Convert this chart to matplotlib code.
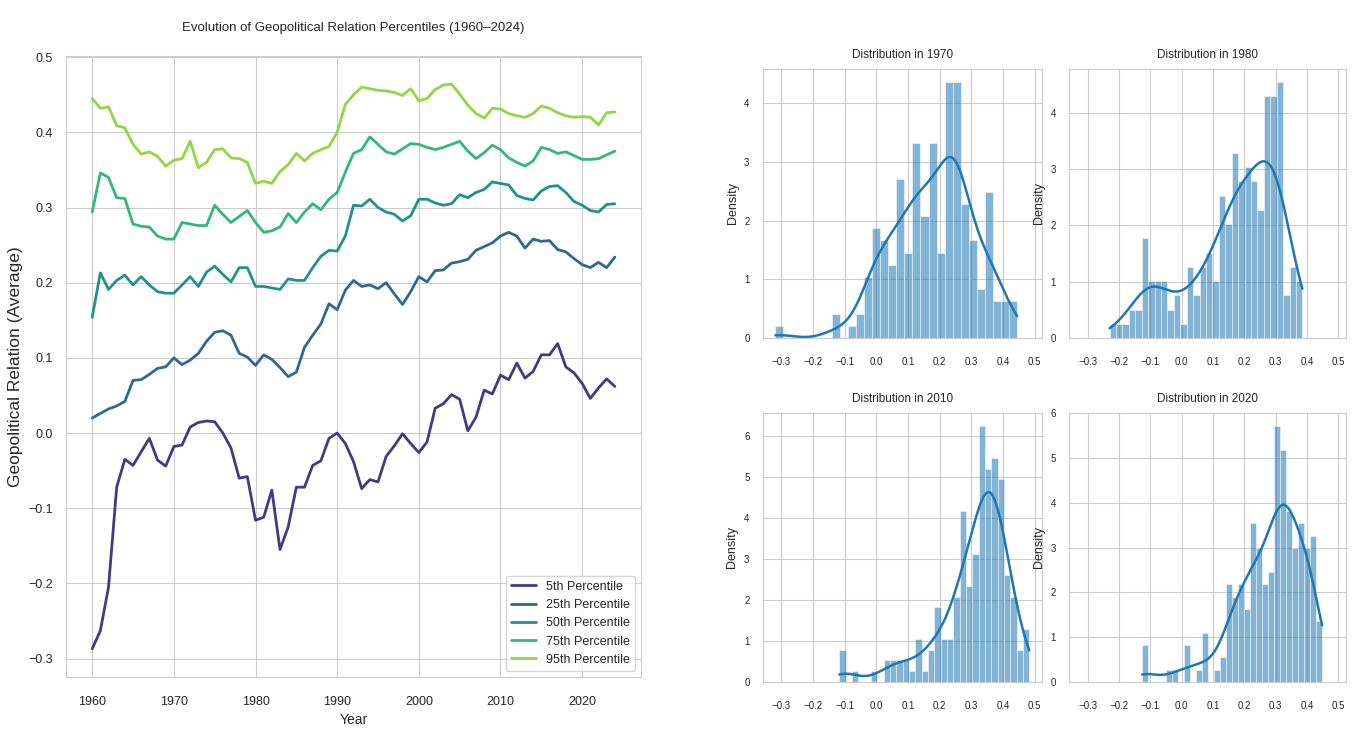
import numpy as np
import matplotlib
matplotlib.use('Agg')
import matplotlib.pyplot as plt
import seaborn as sns
from matplotlib.ticker import MultipleLocator

sns.set_style('whitegrid')
plt.rcParams['font.family'] = ['Liberation Sans', 'DejaVu Sans']

# ---------------- data ----------------
years = list(range(1960, 2025))

p5 = [-0.287, -0.263, -0.205, -0.072, -0.035, -0.043, -0.025, -0.007, -0.036, -0.044,
      -0.018, -0.016, 0.008, 0.014, 0.016, 0.015, 0.000, -0.020, -0.060, -0.058,
      -0.116, -0.112, -0.076, -0.155, -0.125, -0.072, -0.072, -0.043, -0.037, -0.007,
      0.000, -0.014, -0.038, -0.074, -0.062, -0.065, -0.031, -0.017, -0.001, -0.014,
      -0.026, -0.012, 0.033, 0.039, 0.051, 0.045, 0.003, 0.021, 0.057, 0.052,
      0.077, 0.071, 0.093, 0.073, 0.082, 0.104, 0.104, 0.119, 0.088, 0.080,
      0.066, 0.046, 0.060, 0.072, 0.062]

p25 = [0.020, 0.026, 0.032, 0.036, 0.042, 0.070, 0.071, 0.078, 0.086, 0.088,
       0.100, 0.091, 0.097, 0.106, 0.122, 0.134, 0.136, 0.130, 0.106, 0.101,
       0.090, 0.104, 0.098, 0.087, 0.075, 0.081, 0.114, 0.130, 0.145, 0.172,
       0.164, 0.190, 0.203, 0.195, 0.197, 0.192, 0.200, 0.185, 0.171, 0.188,
       0.208, 0.201, 0.216, 0.217, 0.226, 0.228, 0.231, 0.243, 0.248, 0.253,
       0.262, 0.267, 0.262, 0.246, 0.258, 0.255, 0.256, 0.244, 0.241, 0.232,
       0.224, 0.220, 0.227, 0.220, 0.234]

p50 = [0.154, 0.213, 0.191, 0.203, 0.210, 0.197, 0.208, 0.197, 0.188, 0.186,
       0.186, 0.197, 0.208, 0.195, 0.214, 0.222, 0.211, 0.201, 0.220, 0.220,
       0.195, 0.195, 0.193, 0.191, 0.205, 0.203, 0.203, 0.220, 0.235, 0.243,
       0.242, 0.262, 0.303, 0.302, 0.311, 0.300, 0.294, 0.291, 0.282, 0.289,
       0.311, 0.311, 0.306, 0.303, 0.305, 0.317, 0.313, 0.320, 0.324, 0.334,
       0.332, 0.330, 0.316, 0.312, 0.310, 0.322, 0.328, 0.329, 0.320, 0.308,
       0.303, 0.296, 0.294, 0.304, 0.305]

p75 = [0.294, 0.346, 0.340, 0.313, 0.312, 0.278, 0.275, 0.274, 0.262, 0.258,
       0.258, 0.280, 0.278, 0.276, 0.276, 0.303, 0.291, 0.280, 0.288, 0.296,
       0.280, 0.267, 0.269, 0.274, 0.292, 0.280, 0.294, 0.305, 0.297, 0.311,
       0.320, 0.347, 0.372, 0.377, 0.394, 0.384, 0.374, 0.371, 0.378, 0.385,
       0.384, 0.380, 0.377, 0.380, 0.384, 0.388, 0.375, 0.365, 0.373, 0.383,
       0.377, 0.366, 0.360, 0.355, 0.362, 0.380, 0.377, 0.372, 0.374, 0.369,
       0.364, 0.364, 0.365, 0.370, 0.375]

p95 = [0.445, 0.432, 0.434, 0.409, 0.406, 0.384, 0.371, 0.374, 0.368, 0.355,
       0.363, 0.365, 0.388, 0.353, 0.360, 0.377, 0.378, 0.366, 0.365, 0.360,
       0.332, 0.335, 0.332, 0.348, 0.357, 0.372, 0.362, 0.372, 0.377, 0.381,
       0.400, 0.437, 0.450, 0.460, 0.458, 0.456, 0.455, 0.453, 0.449, 0.458,
       0.442, 0.445, 0.457, 0.463, 0.464, 0.451, 0.436, 0.425, 0.419, 0.432,
       0.431, 0.425, 0.422, 0.420, 0.425, 0.435, 0.432, 0.426, 0.422, 0.420,
       0.421, 0.420, 0.410, 0.426, 0.427]

series_labels = ['5th Percentile', '25th Percentile', '50th Percentile',
                 '75th Percentile', '95th Percentile']

# histogram data: value range of each year and counts in 30 equal bins
hist_years = [1970, 1980, 2010, 2020]
hist_min = [-0.319, -0.230, -0.117, -0.126]
hist_max = [0.445, 0.385, 0.483, 0.448]
counts_1970 = [1, 0, 0, 0, 0, 0, 0, 2, 0, 1, 2, 5, 9, 8, 6, 13, 7, 16, 10, 16,
               7, 21, 21, 11, 8, 4, 12, 3, 3, 3]
counts_1980 = [1, 1, 1, 2, 2, 7, 4, 4, 4, 2, 3, 1, 5, 3, 5, 6, 4, 10, 8, 13,
               11, 12, 11, 9, 17, 17, 18, 3, 5, 4]
counts_2010 = [3, 0, 1, 0, 0, 1, 0, 2, 2, 2, 2, 1, 4, 1, 3, 7, 4, 4, 8, 16,
               9, 12, 24, 20, 21, 19, 10, 8, 3, 5]
counts_2020 = [3, 0, 0, 0, 1, 1, 0, 3, 0, 1, 4, 0, 1, 2, 8, 7, 8, 6, 13, 11,
               8, 9, 21, 19, 14, 11, 13, 11, 12, 5]
hist_counts = [counts_1970, counts_1980, counts_2010, counts_2020]

# ---------------- figure ----------------
fig = plt.figure(figsize=(13.62, 7.3), dpi=100)

ax = fig.add_axes([0.0485, 0.0726, 0.4221, 0.8507])
colors = sns.color_palette('viridis', 5)
for vals, lab, c in zip([p5, p25, p50, p75, p95], series_labels, colors):
    ax.plot(years, vals, color=c, lw=2, label=lab)
ax.set_title('Evolution of Geopolitical Relation Percentiles (1960–2024)',
             fontsize=9.5, pad=18, color='.15')
ax.set_xlabel('Year', fontsize=10, labelpad=4)
ax.set_ylabel('Geopolitical Relation (Average)', fontsize=12.5, labelpad=4)
ax.tick_params(axis='x', labelsize=9, pad=10)
ax.tick_params(axis='y', labelsize=9, pad=6)
ax.legend(loc='lower right', fontsize=9, frameon=True)

positions = [[0.560, 0.537, 0.205, 0.3685],
             [0.785, 0.537, 0.203, 0.3685],
             [0.560, 0.066, 0.205, 0.368],
             [0.785, 0.066, 0.203, 0.368]]

base = '#1f77b4'
first = None
for yr, lo, hi, cnt, pos in zip(hist_years, hist_min, hist_max, hist_counts, positions):
    hax = fig.add_axes(pos, sharex=first) if first is not None else fig.add_axes(pos)
    if first is None:
        first = hax
    cnt = np.asarray(cnt, dtype=float)
    n = cnt.sum()
    edges = np.linspace(lo, hi, len(cnt) + 1)
    widths = np.diff(edges)
    dens = cnt / (n * widths)
    hax.bar(edges[:-1], dens, width=widths, align='edge', color=base,
            alpha=0.55, edgecolor='white', linewidth=0.6)
    centers = (edges[:-1] + edges[1:]) / 2
    mean = np.sum(cnt * centers) / n
    std = np.sqrt(np.sum(cnt * (centers - mean) ** 2) / (n - 1))
    bw = std * n ** (-0.2)
    grid = np.linspace(lo, hi, 300)
    kde = np.sum(cnt[None, :] * np.exp(-0.5 * ((grid[:, None] - centers[None, :]) / bw) ** 2),
                 axis=1) / (n * bw * np.sqrt(2 * np.pi))
    hax.plot(grid, kde, color=base, lw=1.8)
    hax.set_title(f'Distribution in {yr}', fontsize=8.5, pad=8, color='.15')
    hax.set_ylabel('Density', fontsize=9)
    hax.xaxis.set_major_locator(MultipleLocator(0.1))
    hax.tick_params(axis='x', labelsize=7, pad=10)
    hax.tick_params(axis='y', labelsize=7, pad=6)

fig.savefig('out.png', dpi=100)
